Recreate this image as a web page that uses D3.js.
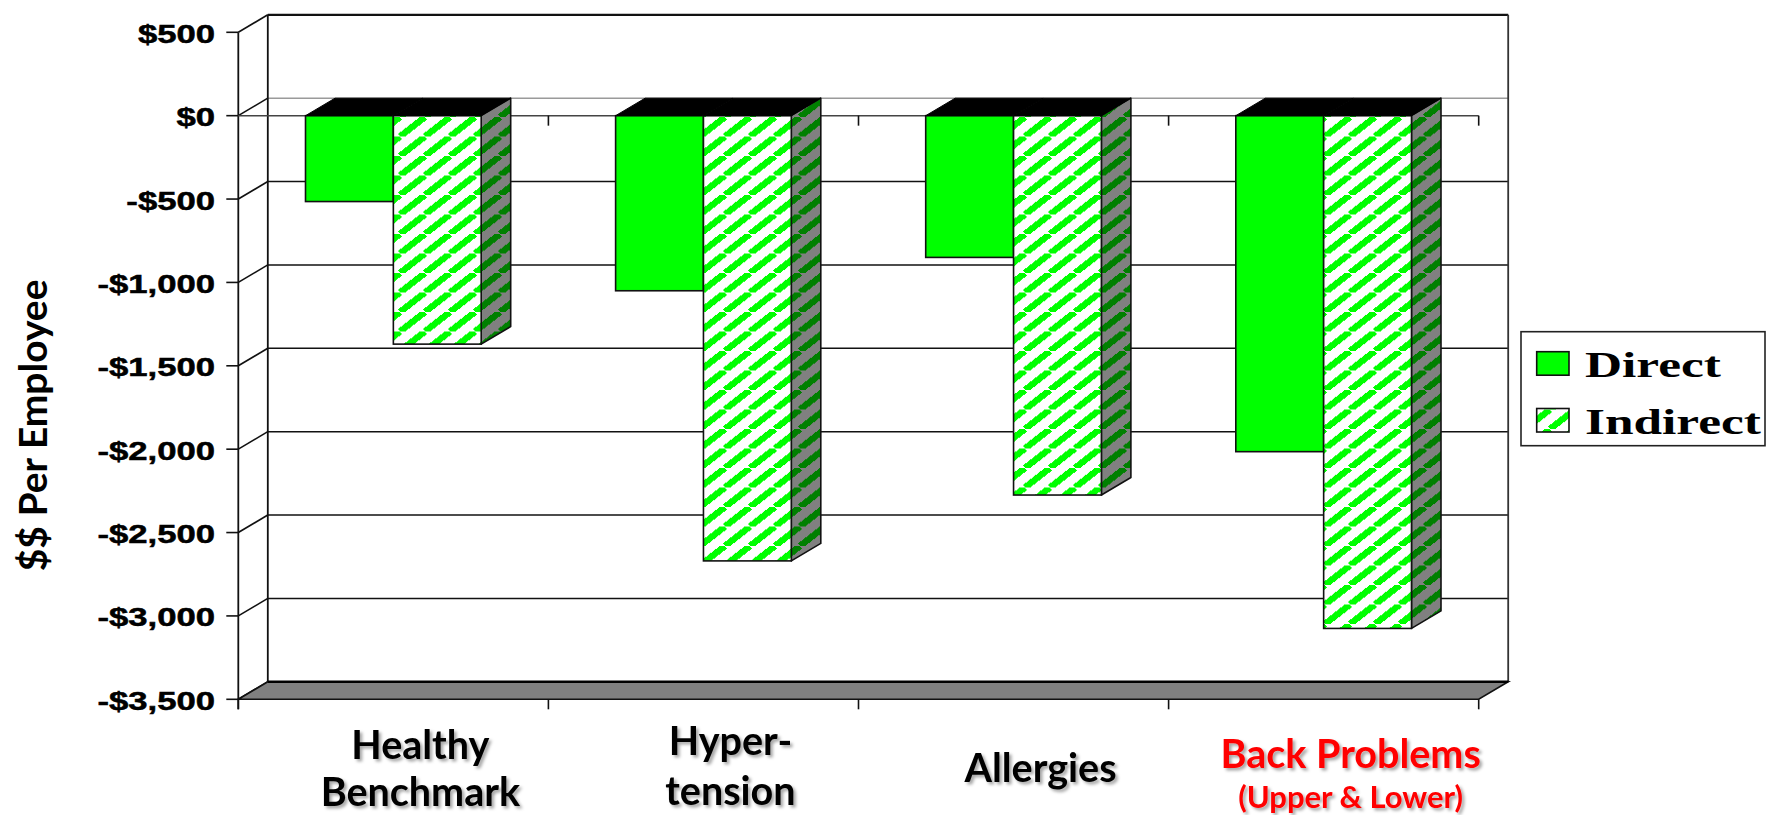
<!DOCTYPE html>
<html>
<head>
<meta charset="utf-8">
<script src="https://cdn.jsdelivr.net/npm/d3@7"></script>
<style>
  html, body { margin: 0; padding: 0; background: #ffffff; }
  svg { display: block; }
</style>
</head>
<body>
<svg id="chart" width="1767" height="815"></svg>
<script>
// ---- data ----
const categories = ["Healthy Benchmark", "Hypertension", "Allergies", "Back Problems"];
const categoryLines = [["Healthy", "Benchmark"], ["Hyper-", "tension"], ["Allergies"], ["Back Problems", "(Upper & Lower)"]];
const seriesNames = ["Direct", "Indirect"];
const directValues = [-515, -1050, -850, -2015];
const indirectValues = [-1370, -2670, -2275, -3075];
const yTickValues = [500, 0, -500, -1000, -1500, -2000, -2500, -3000, -3500];
const yAxisTitle = "$$ Per Employee";

// ---- layout ----
const plot = { left: 238.3, right: 1478.7, top: 32.3, bottom: 699.3 };
const depth = { dx: 29.5, dy: 17.5 };
const GREEN = "#00ff00", DARK_GREEN = "#008000", GRAY = "#808080";

const svg = d3.select("#chart");

const y = d3.scaleLinear().domain([-3500, 500]).range([plot.bottom, plot.top]);
const x0 = d3.scaleBand().domain(categories).range([plot.left, plot.right]);
const x1 = d3.scaleBand().domain(seriesNames).range([0, x0.bandwidth()]).paddingOuter(0.765);

const fmtMoney = v => (v < 0 ? "-" : "") + "$" + d3.format(",")(Math.abs(v));

// ---- fills ----
const defs = svg.append("defs");
function hatch(id, bg, fg) {
  const W = 25, H = 19.5;
  const p = defs.append("pattern").attr("id", id)
    .attr("patternUnits", "userSpaceOnUse").attr("width", W).attr("height", H);
  p.append("rect").attr("width", W).attr("height", H).attr("fill", bg);
  p.append("path")
    .attr("d", `M${-W},${H}L0,0M0,${H}L${W},0M${W},${H}L${2 * W},0`)
    .attr("stroke", fg).attr("stroke-width", 6.4).attr("fill", "none")
    .attr("shape-rendering", "crispEdges");
}
hatch("hatchFront", "#ffffff", GREEN);
hatch("hatchSide", GRAY, DARK_GREEN);

const shadow = defs.append("filter").attr("id", "textShadow")
  .attr("x", "-10%").attr("y", "-20%").attr("width", "130%").attr("height", "160%");
shadow.append("feDropShadow").attr("dx", 2.5).attr("dy", 2.5)
  .attr("stdDeviation", 1.6).attr("flood-color", "#000").attr("flood-opacity", 0.35);

// ---- walls and floor ----
const bx = v => v + depth.dx;          // back-plane x
const by = v => y(v) - depth.dy;       // back-plane y for a value
const walls = svg.append("g");

// back wall gridlines
walls.selectAll("line.grid").data(yTickValues.filter(v => v !== 500 && v !== -3500)).join("line")
  .attr("class", "grid")
  .attr("x1", bx(plot.left)).attr("x2", bx(plot.right))
  .attr("y1", d => by(d)).attr("y2", d => by(d))
  .attr("stroke", d => d === 0 ? "#9a9a9a" : "#111").attr("stroke-width", 1.6);

// diagonals on the left side wall
walls.selectAll("line.diag").data(yTickValues).join("line")
  .attr("class", "diag")
  .attr("x1", plot.left).attr("y1", d => y(d))
  .attr("x2", bx(plot.left)).attr("y2", d => by(d))
  .attr("stroke", "#111").attr("stroke-width", 1.6);

// back wall frame
walls.append("line").attr("x1", bx(plot.left)).attr("x2", bx(plot.right))
  .attr("y1", by(500)).attr("y2", by(500)).attr("stroke", "#111").attr("stroke-width", 2.2);
walls.append("line").attr("x1", bx(plot.left)).attr("x2", bx(plot.left))
  .attr("y1", by(500)).attr("y2", by(-3500)).attr("stroke", "#111").attr("stroke-width", 1.8);
walls.append("line").attr("x1", bx(plot.right)).attr("x2", bx(plot.right))
  .attr("y1", by(500)).attr("y2", by(-3500)).attr("stroke", "#333").attr("stroke-width", 1.8);

// floor
walls.append("polygon")
  .attr("points", [
    [plot.left, y(-3500)], [plot.right, y(-3500)],
    [bx(plot.right), by(-3500)], [bx(plot.left), by(-3500)]
  ].map(p => p.join(",")).join(" "))
  .attr("fill", GRAY).attr("stroke", "#111").attr("stroke-width", 1.6);
walls.append("line").attr("x1", bx(plot.left)).attr("x2", bx(plot.right))
  .attr("y1", by(-3500)).attr("y2", by(-3500)).attr("stroke", "#000").attr("stroke-width", 2.6);

// ---- axes ----
const axes = svg.append("g");
axes.append("line").attr("x1", plot.left).attr("x2", plot.left)
  .attr("y1", y(500)).attr("y2", y(-3500) + 10).attr("stroke", "#111").attr("stroke-width", 1.8);
axes.selectAll("line.ytick").data(yTickValues).join("line")
  .attr("class", "ytick")
  .attr("x1", plot.left - 12).attr("x2", plot.left)
  .attr("y1", d => y(d)).attr("y2", d => y(d))
  .attr("stroke", "#111").attr("stroke-width", 1.6);

// category boundaries
const bounds = categories.map(c => x0(c)).concat([plot.right]);
// axis line at zero
axes.append("line").attr("x1", plot.left).attr("x2", plot.right)
  .attr("y1", y(0)).attr("y2", y(0)).attr("stroke", "#444").attr("stroke-width", 1.6);
axes.selectAll("line.ztick").data(bounds.slice(1)).join("line")
  .attr("class", "ztick")
  .attr("x1", d => d).attr("x2", d => d)
  .attr("y1", y(0)).attr("y2", y(0) + 10)
  .attr("stroke", "#111").attr("stroke-width", 1.6);
// ticks under the floor
axes.selectAll("line.btick").data(bounds).join("line")
  .attr("class", "btick")
  .attr("x1", d => d).attr("x2", d => d)
  .attr("y1", y(-3500)).attr("y2", y(-3500) + 10)
  .attr("stroke", "#111").attr("stroke-width", 1.6);

// y tick labels
axes.selectAll("g.ylabel").data(yTickValues).join("g")
  .attr("class", "ylabel")
  .attr("transform", d => `translate(215,${y(d) + 10.5}) scale(1.36,1)`)
  .append("text")
  .attr("text-anchor", "end")
  .attr("font-family", "'Liberation Sans', Arial, sans-serif")
  .attr("font-weight", "bold").attr("font-size", 25.5).attr("fill", "#000")
  .attr("stroke", "#000").attr("stroke-width", 0.5)
  .text(d => fmtMoney(d));

// y axis title
svg.append("text")
  .attr("transform", "translate(47,425.4) rotate(-90)")
  .attr("text-anchor", "middle")
  .attr("font-family", "Lato, 'Open Sans', sans-serif")
  .attr("font-weight", "bold").attr("font-size", 39).attr("fill", "#000")
  .text(yAxisTitle);

// ---- bars ----
const barsG = svg.append("g");
const pts = a => a.map(p => p.join(",")).join(" ");
categories.forEach((cat, i) => {
  const g = barsG.append("g");
  const w = x1.bandwidth();
  const y0 = y(0);

  // Direct: solid green column
  const dx0 = x0(cat) + x1("Direct");
  const dy1 = y(directValues[i]);
  g.append("rect").attr("x", dx0).attr("y", y0).attr("width", w).attr("height", dy1 - y0)
    .attr("fill", GREEN).attr("stroke", "#111").attr("stroke-width", 1.6);
  g.append("polygon")
    .attr("points", pts([[dx0, y0], [dx0 + w, y0], [dx0 + w + depth.dx, y0 - depth.dy], [dx0 + depth.dx, y0 - depth.dy]]))
    .attr("fill", "#000").attr("stroke", "#000").attr("stroke-width", 1);

  // Indirect: hatched column with shaded side
  const ix0 = x0(cat) + x1("Indirect");
  const iy1 = y(indirectValues[i]);
  g.append("polygon")
    .attr("points", pts([[ix0 + w, y0], [ix0 + w + depth.dx, y0 - depth.dy], [ix0 + w + depth.dx, iy1 - depth.dy], [ix0 + w, iy1]]))
    .attr("fill", "url(#hatchSide)").attr("stroke", "#111").attr("stroke-width", 1.6)
    .attr("stroke-linejoin", "round");
  g.append("rect").attr("x", ix0).attr("y", y0).attr("width", w).attr("height", iy1 - y0)
    .attr("fill", "url(#hatchFront)").attr("stroke", "#111").attr("stroke-width", 1.6);
  g.append("polygon")
    .attr("points", pts([[ix0, y0], [ix0 + w, y0], [ix0 + w + depth.dx, y0 - depth.dy], [ix0 + depth.dx, y0 - depth.dy]]))
    .attr("fill", "#000").attr("stroke", "#000").attr("stroke-width", 1);
});

// ---- category labels ----
const labelColors = ["#000", "#000", "#000", "#ff0000"];
const labelBaselines = [[759, 806], [755, 805], [782], [768, 808]];
const labelSizes = [[39.5, 39.5], [39.5, 39.5], [39.5], [39.5, 31]];
const labelsG = svg.append("g").attr("filter", "url(#textShadow)");
categories.forEach((cat, i) => {
  const cx = x0(cat) + x0.bandwidth() / 2 + 27;
  categoryLines[i].forEach((line, j) => {
    labelsG.append("text")
      .attr("x", cx).attr("y", labelBaselines[i][j])
      .attr("text-anchor", "middle")
      .attr("font-family", "Lato, 'Open Sans', sans-serif")
      .attr("font-weight", "bold").attr("font-size", labelSizes[i][j])
      .attr("fill", labelColors[i])
      .text(line);
  });
});

// ---- legend ----
const legend = svg.append("g");
legend.append("rect").attr("x", 1521).attr("y", 331.7).attr("width", 244).attr("height", 114)
  .attr("fill", "#fff").attr("stroke", "#222").attr("stroke-width", 1.6);
const legendFills = [GREEN, "url(#hatchFront)"];
const legendRows = [351.7, 408.5];
seriesNames.forEach((name, i) => {
  legend.append("rect").attr("x", 1536.7).attr("y", legendRows[i]).attr("width", 32.3).attr("height", 23.5)
    .attr("fill", legendFills[i]).attr("stroke", "#111").attr("stroke-width", 1.6);
  legend.append("g")
    .attr("transform", `translate(1585,${legendRows[i] + 25}) scale(1.4,1)`)
    .append("text")
    .attr("font-family", "'Liberation Serif', 'Times New Roman', serif")
    .attr("font-weight", "bold").attr("font-size", 36.7).attr("fill", "#000")
    .text(name);
});
</script>
</body>
</html>
